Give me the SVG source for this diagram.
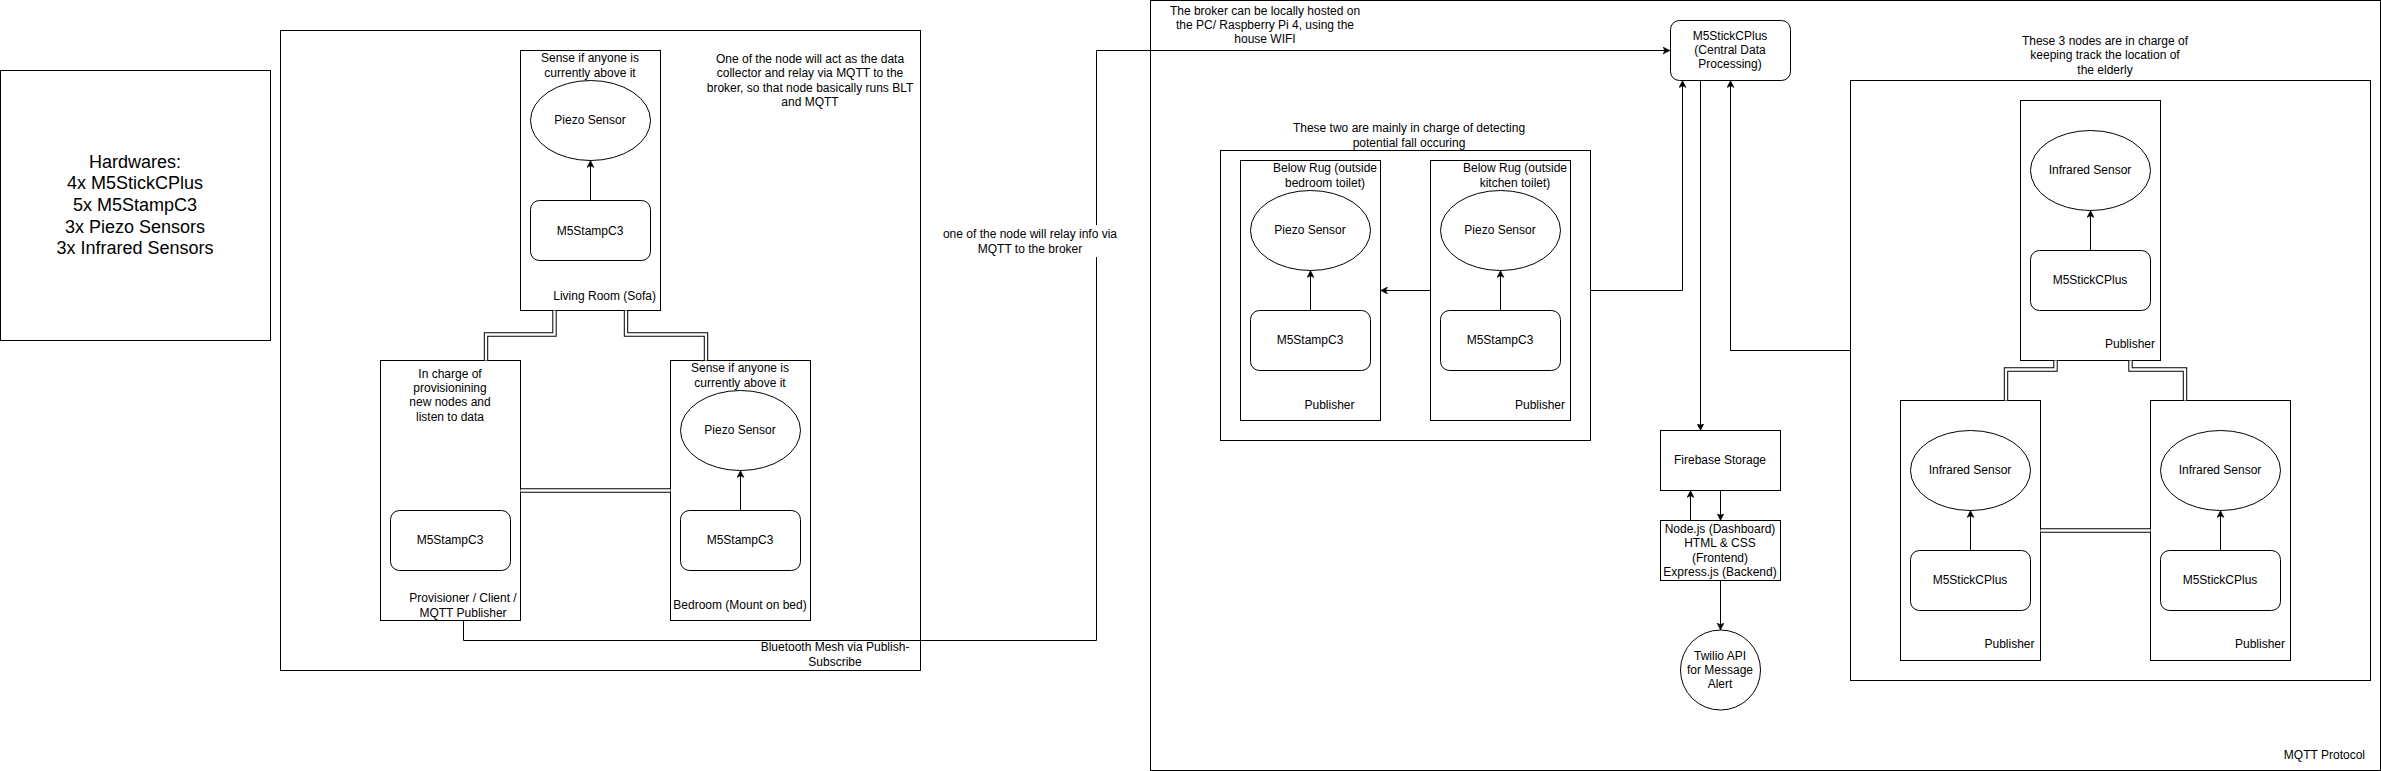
<svg xmlns="http://www.w3.org/2000/svg" width="2381" height="771" viewBox="0 0 2381 771">
<style>
.bx{fill:#fff;stroke:#000;stroke-width:1}
.nf{fill:none;stroke:#000;stroke-width:1}
.t{font-family:"Liberation Sans",Arial,Helvetica,sans-serif;font-size:12px;fill:#000}
.c{text-anchor:middle}
.e{text-anchor:end}
.big{font-size:18px}
.ar{fill:none;stroke:#000;stroke-width:1;marker-end:url(#arr)}
.lkO{fill:none;stroke:#000;stroke-width:4.4}
.lkI{fill:none;stroke:#fff;stroke-width:2.4}
</style>
<defs>
<marker id="arr" markerUnits="userSpaceOnUse" markerWidth="8" markerHeight="8" refX="7" refY="3.5" orient="auto">
<path d="M0,0 L7,3.5 L0,7 L1.75,3.5 Z" fill="#000" stroke="#000" stroke-width="0.5"/>
</marker>
</defs>
<rect width="2381" height="771" fill="#fff"/>

<g id="hardwares">
<rect class="bx" x="0.5" y="70.5" width="270" height="270"/>
<text class="t c big" x="135"><tspan x="135" y="167.7">Hardwares:</tspan><tspan x="135" y="189.3">4x M5StickCPlus</tspan><tspan x="135" y="211">5x M5StampC3</tspan><tspan x="135" y="232.6">3x Piezo Sensors</tspan><tspan x="135" y="254.2">3x Infrared Sensors</tspan></text>
</g>

<g id="bluetooth-mesh">
<rect class="bx" x="280.5" y="30.5" width="640" height="640"/>
<text class="t c"><tspan x="835" y="651.3">Bluetooth Mesh via Publish-</tspan><tspan x="835" y="666.3">Subscribe</tspan></text>
<text class="t c"><tspan x="810" y="63">One of the node will act as the data</tspan><tspan x="810" y="77.4">collector and relay via MQTT to the</tspan><tspan x="810" y="91.8">broker, so that node basically runs BLT</tspan><tspan x="810" y="106.2">and MQTT</tspan></text>
</g>

<g id="mqtt-protocol">
<rect class="bx" x="1150.5" y="0.5" width="1230" height="770"/>
<text class="t e" x="2365" y="759">MQTT Protocol</text>
<text class="t c"><tspan x="1265" y="15">The broker can be locally hosted on</tspan><tspan x="1265" y="29.2">the PC/ Raspberry Pi 4, using the</tspan><tspan x="1265" y="43.4">house WIFI</tspan></text>
</g>

<g id="fall-group">
<rect class="bx" x="1220.5" y="150.5" width="370" height="290"/>
<text class="t c"><tspan x="1409" y="131.7">These two are mainly in charge of detecting</tspan><tspan x="1409" y="146.7">potential fall occuring</tspan></text>
</g>

<g id="infrared-group">
<rect class="bx" x="1850.5" y="80.5" width="520" height="600"/>
<text class="t c"><tspan x="2105" y="45">These 3 nodes are in charge of</tspan><tspan x="2105" y="59.4">keeping track the location of</tspan><tspan x="2105" y="73.8">the elderly</tspan></text>
</g>

<g id="living-room">
<rect class="bx" x="520.5" y="50.5" width="140" height="260"/>
<text class="t c"><tspan x="590" y="62">Sense if anyone is</tspan><tspan x="590" y="76.8">currently above it</tspan></text>
<text class="t e" x="656" y="299.5">Living Room (Sofa)</text>
</g>
<g id="living-room-piezo">
<ellipse class="bx" cx="590.5" cy="120.5" rx="60" ry="40"/>
<text class="t c" x="590" y="124">Piezo Sensor</text>
</g>
<g id="living-room-stamp">
<rect class="bx" x="530.5" y="200.5" width="120" height="60" rx="9"/>
<text class="t c" x="590" y="234.5">M5StampC3</text>
</g>

<g id="provisioner">
<rect class="bx" x="380.5" y="360.5" width="140" height="260"/>
<text class="t c"><tspan x="450" y="377.5">In charge of</tspan><tspan x="450" y="391.9">provisionining</tspan><tspan x="450" y="406.3">new nodes and</tspan><tspan x="450" y="420.7">listen to data</tspan></text>
<text class="t c"><tspan x="463" y="601.7">Provisioner / Client /</tspan><tspan x="463" y="616.5">MQTT Publisher</tspan></text>
</g>
<g id="provisioner-stamp">
<rect class="bx" x="390.5" y="510.5" width="120" height="60" rx="9"/>
<text class="t c" x="450" y="544">M5StampC3</text>
</g>

<g id="bedroom">
<rect class="bx" x="670.5" y="360.5" width="140" height="260"/>
<text class="t c"><tspan x="740" y="372">Sense if anyone is</tspan><tspan x="740" y="386.7">currently above it</tspan></text>
<text class="t c" x="740" y="609">Bedroom (Mount on bed)</text>
</g>
<g id="bedroom-piezo">
<ellipse class="bx" cx="740.5" cy="430.5" rx="60" ry="40"/>
<text class="t c" x="740" y="433.5">Piezo Sensor</text>
</g>
<g id="bedroom-stamp">
<rect class="bx" x="680.5" y="510.5" width="120" height="60" rx="9"/>
<text class="t c" x="740" y="544">M5StampC3</text>
</g>

<g id="rug-bedroom">
<rect class="bx" x="1240.5" y="160.5" width="140" height="260"/>
<text class="t c"><tspan x="1325" y="171.7">Below Rug (outside</tspan><tspan x="1325" y="186.7">bedroom toilet)</tspan></text>
<text class="t e" x="1354.5" y="409">Publisher</text>
</g>
<g id="rug-bedroom-piezo">
<ellipse class="bx" cx="1310.5" cy="230.5" rx="60" ry="40"/>
<text class="t c" x="1310" y="234">Piezo Sensor</text>
</g>
<g id="rug-bedroom-stamp">
<rect class="bx" x="1250.5" y="310.5" width="120" height="60" rx="9"/>
<text class="t c" x="1310" y="344">M5StampC3</text>
</g>

<g id="rug-kitchen">
<rect class="bx" x="1430.5" y="160.5" width="140" height="260"/>
<text class="t c"><tspan x="1515" y="171.7">Below Rug (outside</tspan><tspan x="1515" y="186.7">kitchen toilet)</tspan></text>
<text class="t e" x="1565" y="409">Publisher</text>
</g>
<g id="rug-kitchen-piezo">
<ellipse class="bx" cx="1500.5" cy="230.5" rx="60" ry="40"/>
<text class="t c" x="1500" y="234">Piezo Sensor</text>
</g>
<g id="rug-kitchen-stamp">
<rect class="bx" x="1440.5" y="310.5" width="120" height="60" rx="9"/>
<text class="t c" x="1500" y="344">M5StampC3</text>
</g>

<g id="central">
<rect class="bx" x="1670.5" y="20.5" width="120" height="60" rx="9"/>
<text class="t c"><tspan x="1730" y="39.7">M5StickCPlus</tspan><tspan x="1730" y="54">(Central Data</tspan><tspan x="1730" y="68.3">Processing)</tspan></text>
</g>

<g id="firebase">
<rect class="bx" x="1660.5" y="430.5" width="120" height="60"/>
<text class="t c" x="1720" y="463.5">Firebase Storage</text>
</g>

<g id="nodejs">
<rect class="bx" x="1660.5" y="520.5" width="120" height="60"/>
<text class="t c"><tspan x="1720" y="533">Node.js (Dashboard)</tspan><tspan x="1720" y="547.4">HTML &amp; CSS</tspan><tspan x="1720" y="561.8">(Frontend)</tspan><tspan x="1720" y="576.2">Express.js (Backend)</tspan></text>
</g>

<g id="twilio">
<circle class="bx" cx="1720.5" cy="670" r="40"/>
<text class="t c"><tspan x="1720" y="659.6">Twilio API</tspan><tspan x="1720" y="674">for Message</tspan><tspan x="1720" y="688.4">Alert</tspan></text>
</g>

<g id="ir-top">
<rect class="bx" x="2020.5" y="100.5" width="140" height="260"/>
<text class="t e" x="2155" y="348.3">Publisher</text>
</g>
<g id="ir-top-sensor">
<ellipse class="bx" cx="2090.5" cy="170.5" rx="60" ry="40"/>
<text class="t c" x="2090" y="174">Infrared Sensor</text>
</g>
<g id="ir-top-stick">
<rect class="bx" x="2030.5" y="250.5" width="120" height="60" rx="9"/>
<text class="t c" x="2090" y="283.5">M5StickCPlus</text>
</g>

<g id="ir-left">
<rect class="bx" x="1900.5" y="400.5" width="140" height="260"/>
<text class="t e" x="2034.5" y="648.3">Publisher</text>
</g>
<g id="ir-left-sensor">
<ellipse class="bx" cx="1970.5" cy="470.5" rx="60" ry="40"/>
<text class="t c" x="1970" y="474">Infrared Sensor</text>
</g>
<g id="ir-left-stick">
<rect class="bx" x="1910.5" y="550.5" width="120" height="60" rx="9"/>
<text class="t c" x="1970" y="583.5">M5StickCPlus</text>
</g>

<g id="ir-right">
<rect class="bx" x="2150.5" y="400.5" width="140" height="260"/>
<text class="t e" x="2285" y="648.3">Publisher</text>
</g>
<g id="ir-right-sensor">
<ellipse class="bx" cx="2220.5" cy="470.5" rx="60" ry="40"/>
<text class="t c" x="2220" y="474">Infrared Sensor</text>
</g>
<g id="ir-right-stick">
<rect class="bx" x="2160.5" y="550.5" width="120" height="60" rx="9"/>
<text class="t c" x="2220" y="583.5">M5StickCPlus</text>
</g>

<g id="connectors">
<path class="lkO" d="M554.5,310.5 V334.5 H486 V360.5"/>
<path class="lkI" d="M554.5,310.5 V334.5 H486 V360.5"/>
<path class="lkO" d="M626,310.5 V334.5 H706 V360.5"/>
<path class="lkI" d="M626,310.5 V334.5 H706 V360.5"/>
<path class="lkO" d="M520.5,490.5 H670.5"/>
<path class="lkI" d="M520.5,490.5 H670.5"/>
<path class="lkO" d="M2055.5,360.5 V369.5 H2006 V400.5"/>
<path class="lkI" d="M2055.5,360.5 V369.5 H2006 V400.5"/>
<path class="lkO" d="M2130.5,360.5 V369.5 H2185 V400.5"/>
<path class="lkI" d="M2130.5,360.5 V369.5 H2185 V400.5"/>
<path class="lkO" d="M2040.5,530.5 H2150.5"/>
<path class="lkI" d="M2040.5,530.5 H2150.5"/>
<path class="ar" d="M463.5,620.5 V640.5 H1096.5 V50.5 H1670"/>
<rect x="950" y="225" width="160" height="32" fill="#fff"/>
<text class="t c"><tspan x="1030" y="238.3">one of the node will relay info via</tspan><tspan x="1030" y="252.5">MQTT to the broker</tspan></text>
<path class="ar" d="M1590.5,290.5 H1682.5 V80.5"/>
<path class="ar" d="M1850.5,350.5 H1730.5 V80.5"/>
<path class="ar" d="M1700.5,80.5 V430.5"/>
<path class="ar" d="M1690.5,520.5 V490.5"/>
<path class="ar" d="M1720.5,490.5 V520.5"/>
<path class="ar" d="M1720.5,580.5 V630"/>
<path class="ar" d="M1430.5,290.5 H1380.5"/>
<path class="ar" d="M590.5,200.5 V160.5"/>
<path class="ar" d="M740.5,510.5 V470.5"/>
<path class="ar" d="M1310.5,310.5 V270.5"/>
<path class="ar" d="M1500.5,310.5 V270.5"/>
<path class="ar" d="M2090.5,250.5 V210.5"/>
<path class="ar" d="M1970.5,550.5 V510.5"/>
<path class="ar" d="M2220.5,550.5 V510.5"/>
</g>
</svg>
